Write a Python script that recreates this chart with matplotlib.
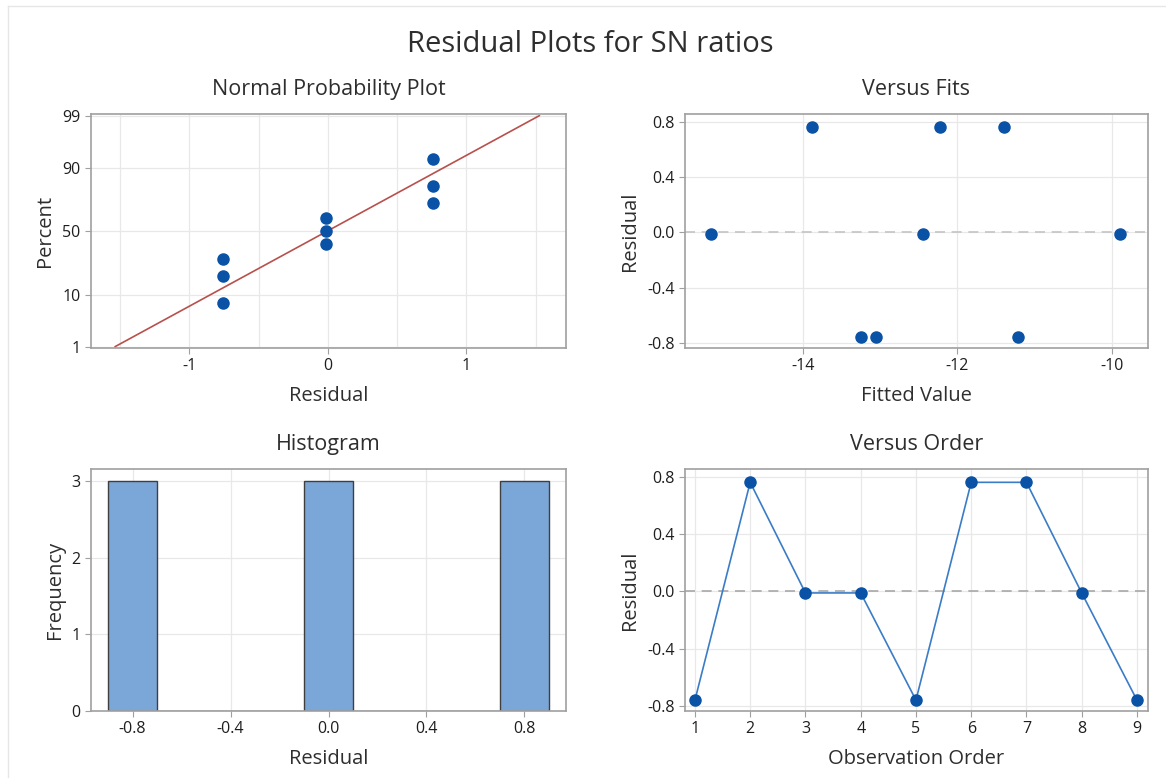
import numpy as np
import matplotlib
matplotlib.use("Agg")
import matplotlib.pyplot as plt
from matplotlib.lines import Line2D
from statistics import NormalDist

order = [1, 2, 3, 4, 5, 6, 7, 8, 9]
residuals = [-0.76, 0.76, -0.012, -0.012, -0.76, 0.76, 0.76, -0.012, -0.76]
fitted = [-13.25, -13.88, -15.19, -12.44, -13.06, -12.23, -11.40, -9.89, -11.22]

# normal plot: plotted percents for the sorted residuals
npp_percent = [7.4, 18.1, 28.7, 39.4, 50.0, 60.6, 71.3, 81.9, 92.6]
npp_ticks = [1, 10, 50, 90, 99]

hist_edges = [-0.9, -0.7, -0.5, -0.3, -0.1, 0.1, 0.3, 0.5, 0.7, 0.9]
hist_ticks = [-0.8, -0.4, 0.0, 0.4, 0.8]
resid_ticks = [-0.8, -0.4, 0.0, 0.4, 0.8]
fit_ticks = [-14, -12, -10]

plt.rcParams['font.family'] = ['Open Sans', 'DejaVu Sans']

DOT = '#0A52A5'
LINE = '#3A7CC6'
GRID = '#E8E8E8'
SPINE = '#A0A0A0'
TXT = '#2E2E2E'

W, H = 1166, 778
fig = plt.figure(figsize=(W / 100, H / 100), dpi=100)
fig.patch.set_facecolor('white')

# faint outer frame of the Minitab graph window
fig.add_artist(Line2D([8 / W, 8 / W], [0, 1 - 6 / H], color='#E6E6E6', lw=1))
fig.add_artist(Line2D([8 / W, 1], [1 - 6 / H, 1 - 6 / H], color='#E6E6E6', lw=1))

fig.text(0.506, 1 - 45 / H, 'Residual Plots for SN ratios', ha='center', va='center',
         fontsize=21, color=TXT)


def box(l, t, r, b):
    return fig.add_axes([l / W, 1 - b / H, (r - l) / W, (b - t) / H])


def style(ax, title, xlabel, ylabel):
    ax.set_title(title, fontsize=15.5, color=TXT, pad=14)
    ax.set_xlabel(xlabel, fontsize=14.5, color=TXT, labelpad=8)
    ax.set_ylabel(ylabel, fontsize=14.5, color=TXT, labelpad=5)
    for s in ax.spines.values():
        s.set_color(SPINE)
        s.set_linewidth(1.2)
    ax.tick_params(which='major', length=4, width=0.8, color=SPINE, labelsize=11.5, labelcolor='#1E1E1E')
    ax.tick_params(which='minor', length=0)
    ax.grid(True, which='both', color=GRID, lw=0.9)
    ax.set_axisbelow(True)


# --- Normal Probability Plot ---
ax1 = box(91, 114, 566, 348)
nd = NormalDist()
z_pts = [nd.inv_cdf(p / 100) for p in npp_percent]
sorted_res = sorted(residuals)
mu = np.mean(residuals)
sd = np.std(residuals, ddof=1)
z_line = np.array([nd.inv_cdf(0.01), nd.inv_cdf(0.99)])
ax1.plot(mu + sd * z_line, z_line, color='#B8504C', lw=1.2, zorder=2)
ax1.plot(sorted_res, z_pts, 'o', color=DOT, ms=8, zorder=3)
ax1.set_yticks([nd.inv_cdf(p / 100) for p in npp_ticks])
ax1.set_yticklabels([str(p) for p in npp_ticks])
ax1.set_xticks([-1, 0, 1])
ax1.set_xticklabels(['-1', '0', '1'])
ax1.set_xticks([-1.5, -0.5, 0.5, 1.5], minor=True)
ax1.set_xlim(-1.71, 1.72)
ax1.set_ylim(-2.355, 2.36)
style(ax1, 'Normal Probability Plot', 'Residual', 'Percent')

# --- Versus Fits ---
ax2 = box(685, 114, 1148, 348)
ax2.axhline(0, color='#C4C4C4', lw=1.2, ls=(0, (6, 4)), zorder=1)
ax2.plot(fitted, residuals, 'o', color=DOT, ms=8, zorder=3)
ax2.set_xticks(fit_ticks)
ax2.set_xticklabels([str(v) for v in fit_ticks])
ax2.set_yticks(resid_ticks)
ax2.set_yticklabels([f'{v:.1f}' for v in resid_ticks])
ax2.set_xlim(-15.53, -9.53)
ax2.set_ylim(-0.836, 0.855)
style(ax2, 'Versus Fits', 'Fitted Value', 'Residual')

# --- Histogram ---
ax3 = box(91, 469, 566, 711)
ax3.hist(residuals, bins=hist_edges, color='#7BA6D8', edgecolor='#3F3F3F', lw=1.0, zorder=2)
ax3.set_xticks(hist_ticks)
ax3.set_xticklabels([f'{v:.1f}' for v in hist_ticks])
ax3.set_yticks([0, 1, 2, 3])
ax3.set_xlim(-0.97, 0.97)
ax3.set_ylim(0, 3.16)
style(ax3, 'Histogram', 'Residual', 'Frequency')

# --- Versus Order ---
ax4 = box(685, 469, 1148, 711)
ax4.axhline(0, color='#A8A8A8', lw=1.2, ls=(0, (6, 4)), zorder=1)
ax4.plot(order, residuals, '-', color=LINE, lw=1.2, zorder=2)
ax4.plot(order, residuals, 'o', color=DOT, ms=8, zorder=3)
ax4.set_xticks(order)
ax4.set_yticks(resid_ticks)
ax4.set_yticklabels([f'{v:.1f}' for v in resid_ticks])
ax4.set_xlim(0.82, 9.2)
ax4.set_ylim(-0.836, 0.853)
style(ax4, 'Versus Order', 'Observation Order', 'Residual')

fig.savefig('out.png', dpi=100)
